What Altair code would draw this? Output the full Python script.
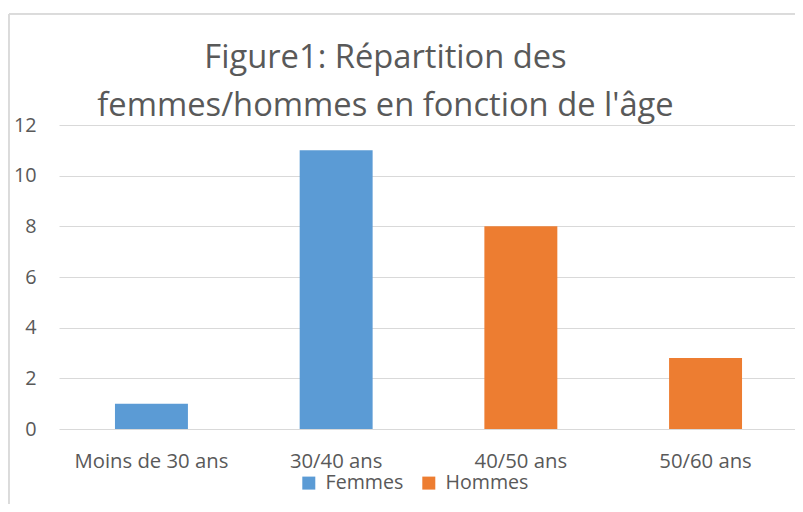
import altair as alt
import pandas as pd

categories = ["Moins de 30 ans", "30/40 ans", "40/50 ans", "50/60 ans"]
sexe = ["Femmes", "Femmes", "Hommes", "Hommes"]
valeurs = [1, 11, 8, 2.8]
y_ticks = [0, 2, 4, 6, 8, 10, 12]
legend_labels = ["Femmes", "Hommes"]
legend_colors = ["#5B9BD5", "#ED7D31"]

df = pd.DataFrame({"cat": categories, "sexe": sexe, "val": valeurs})

FONT = "Open Sans"
TXT = "#595959"

bars = alt.Chart(df).mark_bar(stroke=None).encode(
    x=alt.X("cat:N", sort=categories, title=None,
            scale=alt.Scale(paddingInner=0.605, paddingOuter=0.303),
            axis=alt.Axis(labelAngle=0, ticks=False, domain=False, labelFontSize=20.3,
                          labelColor=TXT, labelFont=FONT, labelPadding=22, grid=False)),
    y=alt.Y("val:Q", title=None, scale=alt.Scale(domain=[0, 12], nice=False),
            axis=alt.Axis(values=y_ticks, ticks=False, domain=False, labelFontSize=19.8,
                          labelColor=TXT, labelFont=FONT, labelPadding=23,
                          gridColor="#D9D9D9", gridWidth=1)),
    color=alt.Color("sexe:N", title=None,
                    scale=alt.Scale(domain=legend_labels, range=legend_colors),
                    legend=alt.Legend(orient="none", legendX=240, legendY=348,
                                      direction="horizontal", symbolType="square",
                                      symbolSize=169, symbolStrokeWidth=0,
                                      labelFontSize=19.6, labelColor=TXT, labelFont=FONT,
                                      labelOffset=7, columnPadding=15)),
)

border_left = alt.Chart(df).mark_rule(color="#D9D9D9", strokeWidth=1).encode(
    x=alt.value(-50), y=alt.value(-111), y2=alt.value(400))
border_top = alt.Chart(df).mark_rule(color="#D9D9D9", strokeWidth=1).encode(
    x=alt.value(-50), x2=alt.value(760), y=alt.value(-111))

chart = alt.layer(border_left, border_top, bars).properties(
    width=739, height=304,
    autosize=alt.AutoSizeParams(type="none"),
    padding={"left": 51, "top": 117, "right": -3, "bottom": 75},
    title=alt.TitleParams(
        text=["Figure1: Répartition des", "femmes/hommes en fonction de l'âge"],
        fontSize=32.7, font=FONT, fontWeight="normal", color=TXT,
        anchor="middle", dx=-43, offset=-109, lineHeight=47.5),
).configure_view(stroke=None)

chart.save("out.html", embed_options={"renderer": "svg", "actions": False})
